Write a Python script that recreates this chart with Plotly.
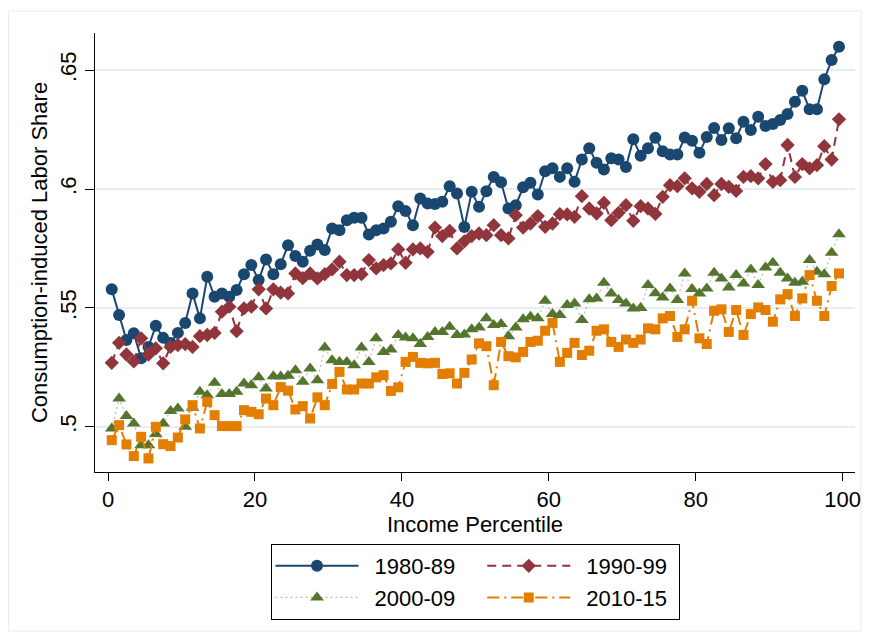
import plotly.graph_objects as go

# Income percentile bins (plotted at bin midpoints)
percentile = list(range(1, 101))
pct_mid = [p - 0.5 for p in percentile]

share_1980_89 = [
    0.5578, 0.5470, 0.5365, 0.5393, 0.5288, 0.5336, 0.5425, 0.5374, 0.5352, 0.5395,
    0.5437, 0.5561, 0.5456, 0.5631, 0.5547, 0.5561, 0.5547, 0.5575, 0.5642, 0.5680,
    0.5617, 0.5704, 0.5642, 0.5684, 0.5764, 0.5718, 0.5694, 0.5740, 0.5767, 0.5743,
    0.5834, 0.5827, 0.5869, 0.5879, 0.5879, 0.5809, 0.5827, 0.5834, 0.5862, 0.5928,
    0.5907, 0.5848, 0.5960, 0.5939, 0.5937, 0.5946, 0.6012, 0.5981, 0.5840, 0.5988,
    0.5925, 0.5991, 0.6051, 0.6028, 0.5918, 0.5932, 0.6007, 0.6026, 0.5977, 0.6075,
    0.6087, 0.6051, 0.6087, 0.6030, 0.6124, 0.6171, 0.6110, 0.6082, 0.6129, 0.6124,
    0.6093, 0.6209, 0.6140, 0.6171, 0.6215, 0.6159, 0.6145, 0.6145, 0.6217, 0.6203,
    0.6152, 0.6219, 0.6257, 0.6206, 0.6255, 0.6213, 0.6283, 0.6248, 0.6304, 0.6265,
    0.6273, 0.6290, 0.6315, 0.6367, 0.6413, 0.6335, 0.6335, 0.6461, 0.6542, 0.6598,
]

share_1990_99 = [
    0.5269, 0.5353, 0.5304, 0.5275, 0.5372, 0.5304, 0.5330, 0.5267, 0.5336, 0.5344,
    0.5348, 0.5336, 0.5381, 0.5386, 0.5395, 0.5484, 0.5505, 0.5402, 0.5498, 0.5505,
    0.5578, 0.5498, 0.5578, 0.5564, 0.5561, 0.5645, 0.5625, 0.5645, 0.5624, 0.5642,
    0.5662, 0.5694, 0.5638, 0.5638, 0.5642, 0.5701, 0.5666, 0.5680, 0.5687, 0.5746,
    0.5690, 0.5746, 0.5750, 0.5736, 0.5838, 0.5802, 0.5824, 0.5750, 0.5780, 0.5802,
    0.5813, 0.5806, 0.5848, 0.5806, 0.5792, 0.5890, 0.5838, 0.5855, 0.5886, 0.5841,
    0.5855, 0.5894, 0.5893, 0.5883, 0.5970, 0.5918, 0.5897, 0.5942, 0.5869, 0.5900,
    0.5932, 0.5866, 0.5928, 0.5918, 0.5895, 0.5967, 0.6016, 0.6012, 0.6045, 0.6003,
    0.5988, 0.6021, 0.5974, 0.6021, 0.6009, 0.5992, 0.6051, 0.6054, 0.6045, 0.6105,
    0.6030, 0.6037, 0.6185, 0.6051, 0.6105, 0.6087, 0.6100, 0.6180, 0.6124, 0.6293,
]

share_2000_09 = [
    0.4993, 0.5119, 0.5045, 0.5014, 0.4923, 0.4923, 0.4970, 0.5014, 0.5067, 0.5077,
    0.5000, 0.5080, 0.5147, 0.5133, 0.5185, 0.5138, 0.5138, 0.5147, 0.5182, 0.5175,
    0.5208, 0.5161, 0.5213, 0.5212, 0.5215, 0.5238, 0.5189, 0.5245, 0.5196, 0.5334,
    0.5280, 0.5273, 0.5273, 0.5259, 0.5334, 0.5273, 0.5372, 0.5315, 0.5325, 0.5386,
    0.5376, 0.5372, 0.5348, 0.5378, 0.5399, 0.5399, 0.5421, 0.5386, 0.5388, 0.5410,
    0.5418, 0.5456, 0.5428, 0.5432, 0.5381, 0.5418, 0.5452, 0.5463, 0.5456, 0.5530,
    0.5474, 0.5470, 0.5512, 0.5519, 0.5449, 0.5536, 0.5540, 0.5606, 0.5561, 0.5533,
    0.5519, 0.5498, 0.5500, 0.5596, 0.5562, 0.5544, 0.5582, 0.5533, 0.5645, 0.5580,
    0.5561, 0.5582, 0.5648, 0.5624, 0.5586, 0.5638, 0.5603, 0.5662, 0.5596, 0.5670,
    0.5690, 0.5648, 0.5624, 0.5606, 0.5610, 0.5701, 0.5652, 0.5642, 0.5732, 0.5810,
]

share_2010_15 = [
    0.4944, 0.5007, 0.4926, 0.4877, 0.4958, 0.4867, 0.5000, 0.4927, 0.4919, 0.4955,
    0.5031, 0.5091, 0.4993, 0.5105, 0.5049, 0.5003, 0.5003, 0.5003, 0.5070, 0.5063,
    0.5053, 0.5119, 0.5091, 0.5167, 0.5152, 0.5073, 0.5087, 0.5035, 0.5124, 0.5091,
    0.5180, 0.5231, 0.5157, 0.5157, 0.5182, 0.5182, 0.5208, 0.5217, 0.5151, 0.5166,
    0.5273, 0.5294, 0.5269, 0.5267, 0.5269, 0.5222, 0.5225, 0.5182, 0.5227, 0.5283,
    0.5351, 0.5339, 0.5175, 0.5357, 0.5297, 0.5292, 0.5315, 0.5357, 0.5362, 0.5404,
    0.5437, 0.5273, 0.5311, 0.5353, 0.5302, 0.5320, 0.5404, 0.5410, 0.5357, 0.5336,
    0.5367, 0.5353, 0.5367, 0.5414, 0.5410, 0.5456, 0.5466, 0.5378, 0.5410, 0.5530,
    0.5372, 0.5348, 0.5488, 0.5494, 0.5399, 0.5491, 0.5386, 0.5474, 0.5502, 0.5491,
    0.5442, 0.5536, 0.5558, 0.5466, 0.5540, 0.5638, 0.5530, 0.5466, 0.5592, 0.5645,
]

period_labels = ["1980-89", "1990-99", "2000-09", "2010-15"]
y_ticks = [0.5, 0.55, 0.6, 0.65]
y_tick_text = [".5", ".55", ".6", ".65"]
x_ticks = [0, 20, 40, 60, 80, 100]

FONT = "Liberation Sans, Arial, Helvetica, sans-serif"
FS = 22
NAVY = "#1a476f"
MAROON = "#90353b"
GREEN = "#55752f"
ORANGE = "#e37e00"

EN = "\u2002"   # en space: gap between legend key and label
NB = "\u00a0"

# (values, colour, line style, marker symbol, marker size, legend column, trailing pad)
styles = [
    (share_1980_89, NAVY, dict(color=NAVY, width=2, dash="solid"), "circle", 12, "left", EN + EN),
    (share_1990_99, MAROON, dict(color=MAROON, width=2, dash="9px,6px"), "diamond", 11, "right", NB),
    (share_2000_09, GREEN, dict(color="rgba(85,117,47,0.45)", width=1.2, dash="2px,3px"),
     "triangle-up", 12, "left", EN + EN),
    (share_2010_15, ORANGE, dict(color=ORANGE, width=2, dash="12px,5px,2px,5px"), "square", 10, "right", NB),
]

fig = go.Figure()
for label, (vals, col, line, sym, size, grp, pad) in zip(period_labels, styles):
    fig.add_trace(go.Scatter(
        x=pct_mid, y=vals, name=EN + label + pad, mode="lines+markers",
        line=line, legendgroup=grp,
        marker=dict(symbol=sym, size=size, color=col, line=dict(width=0)),
    ))

W, H = 873, 640
L, R, T, B = 95, 13, 33, 168
pw, ph = W - L - R, H - T - B

fig.update_layout(
    width=W, height=H,
    margin=dict(l=L, r=R, t=T, b=B),
    paper_bgcolor="white", plot_bgcolor="white",
    font=dict(family=FONT, size=FS, color="black"),
    showlegend=True,
    legend=dict(
        orientation="h", traceorder="grouped",
        x=0.5, xanchor="center", y=-(544 - (H - B)) / ph, yanchor="top",
        bordercolor="black", borderwidth=1, bgcolor="white",
        itemwidth=83, tracegroupgap=0,
        font=dict(family=FONT, size=FS, color="black"),
    ),
    xaxis=dict(
        range=[-1.78, 101.68], tickmode="array", tickvals=x_ticks,
        showgrid=False, zeroline=False,
        showline=True, linecolor="black", linewidth=1,
        ticks="outside", ticklen=8, tickcolor="black", tickwidth=1,
        tickfont=dict(family=FONT, size=FS, color="black"),
        title=dict(text="Income Percentile", standoff=0,
                   font=dict(family=FONT, size=FS, color="black")),
    ),
    yaxis=dict(
        range=[0.481, 0.6656], tickmode="array", tickvals=y_ticks, ticktext=y_tick_text,
        tickangle=-90,
        showgrid=True, gridcolor="#e6eef0", gridwidth=2, zeroline=False,
        showline=True, linecolor="black", linewidth=1,
        ticks="outside", ticklen=9, tickcolor="black", tickwidth=1,
        tickfont=dict(family=FONT, size=FS, color="black"),
        title=dict(text="Consumption-induced Labor Share", standoff=2,
                   font=dict(family=FONT, size=FS, color="black")),
    ),
    shapes=[dict(
        type="rect", xref="paper", yref="paper",
        x0=(8 - L) / pw, x1=(866 - L) / pw,
        y0=((H - B) - 631) / ph, y1=((H - B) - 11) / ph,
        line=dict(color="#e6eef0", width=1), fillcolor="rgba(0,0,0,0)", layer="below",
    )],
)

fig.write_html("out.html")
